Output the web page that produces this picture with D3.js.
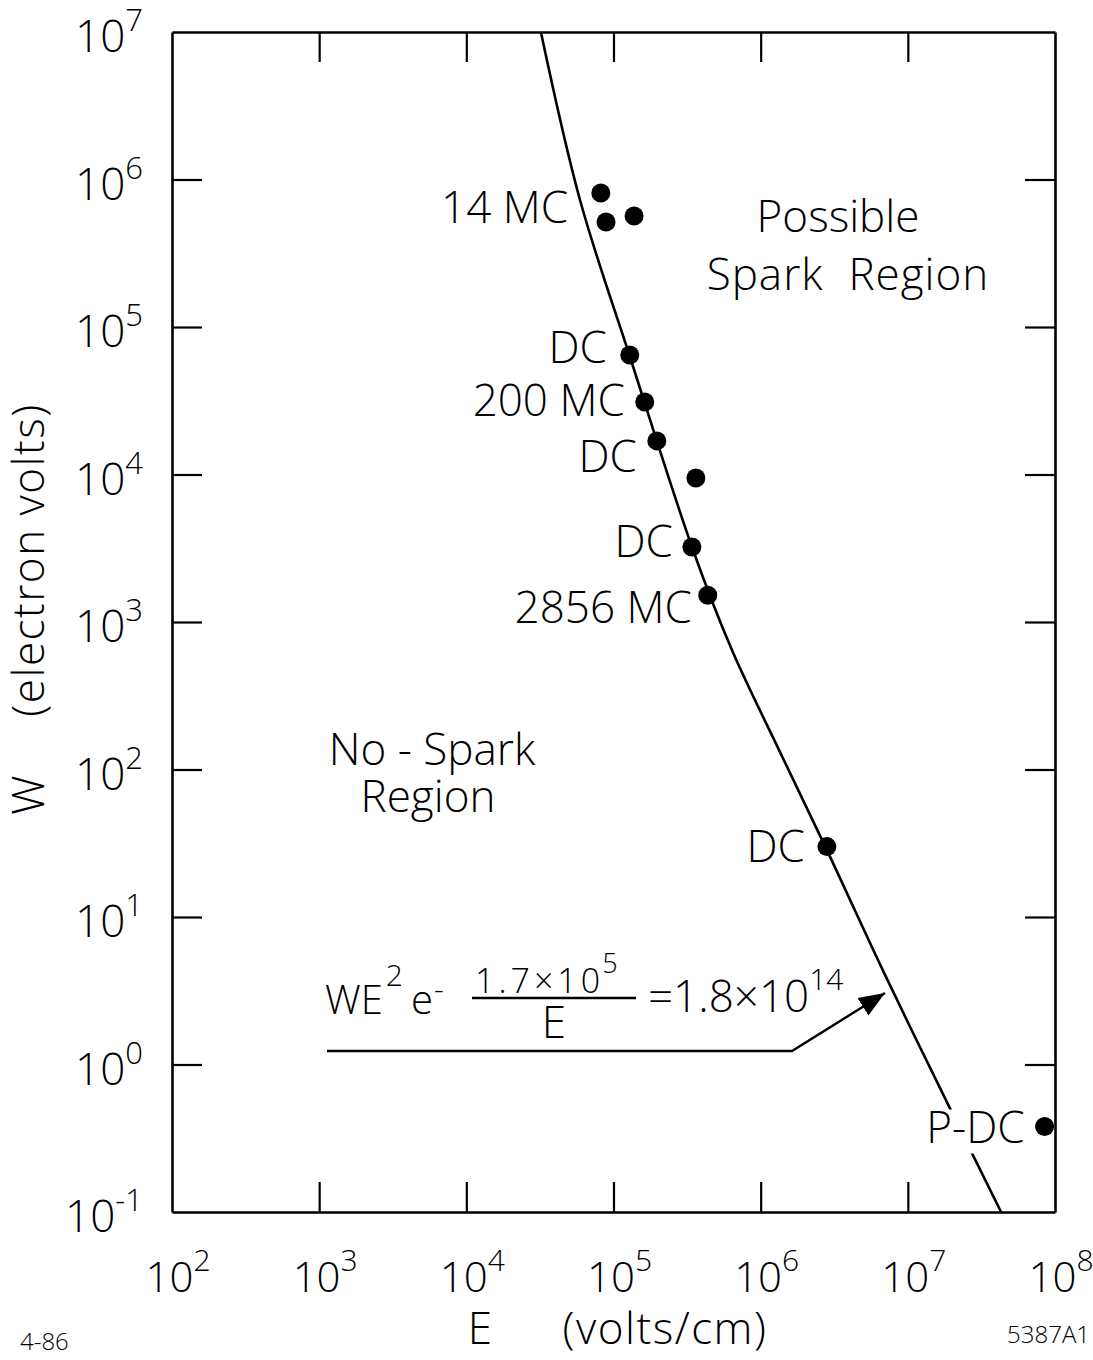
<!DOCTYPE html>
<html>
<head>
<meta charset="utf-8">
<script src="https://cdn.jsdelivr.net/npm/d3@7"></script>
<style>
  body { margin: 0; background: #fff; }
  text { font-family: "Open Sans", "DejaVu Sans", sans-serif; font-weight: 300; fill: #000; }
</style>
</head>
<body>
<div id="chart"></div>
<script>
// --- data ---
const pointE = [8.2e4, 8.9e4, 1.38e5, 1.29e5, 1.63e5, 1.97e5, 3.63e5, 3.41e5, 4.37e5, 2.82e6, 8.5e7];
const pointW = [8.1e5, 5.15e5, 5.66e5, 6.45e4, 3.1e4, 1.69e4, 9.46e3, 3.22e3, 1.52e3, 30, 0.38];
const pointLabels = ["", "14 MC", "", "DC", "200 MC", "DC", "", "DC", "2856 MC", "DC", "P-DC"];

// boundary curve
const curveE = [3.21e4, 5.92e4, 1.294e5, 3.47e5, 6.38e5, 1.35e6, 2.82e6, 7.0e6, 1.96e7, 4.3e7];
const curveW = [1e7, 7.26e5, 6.26e4, 3.08e3, 646, 132, 28.4, 4.05, 0.49, 0.1];

const xTicks = [1e2, 1e3, 1e4, 1e5, 1e6, 1e7, 1e8];
const xTickExp = ["2", "3", "4", "5", "6", "7", "8"];
const yTicks = [1e-1, 1e0, 1e1, 1e2, 1e3, 1e4, 1e5, 1e6, 1e7];
const yTickExp = ["-1", "0", "1", "2", "3", "4", "5", "6", "7"];

// label placement (end of text relative to the dot, baseline offset)
const labelNudge = {1: [-38, 1], 3: [-23, 8], 4: [-20, 14], 5: [-20, 31], 7: [-19, 10],
                    8: [-16, 28], 9: [-22, 15], 10: [-20, 17]};

const width = 1093, height = 1360;
const svg = d3.select("#chart").append("svg")
  .attr("width", width).attr("height", height)
  .style("background", "#fff");

const x = d3.scaleLog().domain([1e2, 1e8]).range([172, 1055]);
const y = d3.scaleLog().domain([1e-1, 1e7]).range([1212, 32]);

const [x0, x1] = x.range();
const [y0, y1] = y.range();

// --- axes (ticks pointing inward) ---
const innerX = xTicks.slice(1, -1);
const innerY = yTicks.slice(1, -1);

function styleAxis(g) {
  g.select(".domain").attr("stroke", "#000").attr("stroke-width", 2.6);
  g.selectAll(".tick line").attr("stroke", "#000").attr("stroke-width", 2.2);
  g.selectAll(".tick text").remove();
}

svg.append("g").attr("transform", `translate(0,${y0})`)
  .call(d3.axisBottom(x).tickValues(innerX).tickSize(-30).tickSizeOuter(0).tickFormat(""))
  .call(styleAxis);
svg.append("g").attr("transform", `translate(0,${y1})`)
  .call(d3.axisTop(x).tickValues(innerX).tickSize(-30).tickSizeOuter(0).tickFormat(""))
  .call(styleAxis);
svg.append("g").attr("transform", `translate(${x0},0)`)
  .call(d3.axisLeft(y).tickValues(innerY).tickSize(-30).tickSizeOuter(0).tickFormat(""))
  .call(styleAxis);
svg.append("g").attr("transform", `translate(${x1},0)`)
  .call(d3.axisRight(y).tickValues(innerY).tickSize(-30).tickSizeOuter(0).tickFormat(""))
  .call(styleAxis);

// tick labels as 10^n
xTicks.forEach((v, i) => {
  const t = svg.append("text")
    .attr("x", x(v) + 6).attr("y", y0 + 80)
    .attr("text-anchor", "middle");
  t.append("tspan").attr("font-size", 42).text("10");
  t.append("tspan").attr("font-size", 30).attr("dy", -21).text(xTickExp[i]);
});

yTicks.forEach((v, i) => {
  const t = svg.append("text")
    .attr("x", 143).attr("y", y(v) + 20)
    .attr("text-anchor", "end");
  t.append("tspan").attr("font-size", 44).text("10");
  t.append("tspan").attr("font-size", 31).attr("dy", -21).text(yTickExp[i]);
});

// axis titles
svg.append("text")
  .attr("transform", "translate(44,795) rotate(-90)")
  .attr("text-anchor", "middle").attr("font-size", 44).text("W");
svg.append("text")
  .attr("transform", "translate(44,560) rotate(-90)")
  .attr("text-anchor", "middle").attr("font-size", 44)
  .attr("letter-spacing", 1.5).text("(electron volts)");

svg.append("text").attr("x", 480).attr("y", 1344)
  .attr("text-anchor", "middle").attr("font-size", 44).text("E");
svg.append("text").attr("x", 665).attr("y", 1344)
  .attr("text-anchor", "middle").attr("font-size", 44)
  .attr("letter-spacing", 1.5).text("(volts/cm)");

svg.append("text").attr("x", 20).attr("y", 1350).attr("font-size", 24).text("4-86");
svg.append("text").attr("x", 1090).attr("y", 1343)
  .attr("text-anchor", "end").attr("font-size", 24).text("5387A1");

// region captions
svg.append("text").attr("x", 838).attr("y", 232)
  .attr("text-anchor", "middle").attr("font-size", 44).text("Possible");
svg.append("text").attr("x", 848).attr("y", 290)
  .attr("text-anchor", "middle").attr("font-size", 44)
  .attr("letter-spacing", 1).text("Spark\u00a0\u00a0Region");
svg.append("text").attr("x", 432).attr("y", 765)
  .attr("text-anchor", "middle").attr("font-size", 44).text("No - Spark");
svg.append("text").attr("x", 428).attr("y", 812)
  .attr("text-anchor", "middle").attr("font-size", 44).text("Region");

// --- boundary curve ---
const curveData = curveE.map((e, i) => ({e: e, w: curveW[i]}));
const line = d3.line()
  .x(d => x(d.e))
  .y(d => y(d.w))
  .curve(d3.curveCatmullRom.alpha(0.5));

svg.append("path")
  .datum(curveData)
  .attr("d", line)
  .attr("fill", "none")
  .attr("stroke", "#000")
  .attr("stroke-width", 2.6);

// --- formula annotation ---
const f = svg.append("g");
const lhs = f.append("text").attr("x", 325).attr("y", 1014).attr("font-size", 40);
lhs.append("tspan").text("WE");
lhs.append("tspan").attr("font-size", 30).attr("dx", 3).attr("dy", -28).text("2");
lhs.append("tspan").attr("dx", 8).attr("dy", 28).text("e");
lhs.append("tspan").attr("font-size", 30).attr("dx", 1).attr("dy", -14).text("-");

const num = f.append("text").attr("x", 475).attr("y", 993).attr("font-size", 34);
num.append("tspan").attr("letter-spacing", 4).text("1.7×1");
num.append("tspan").text("0");
num.append("tspan").attr("font-size", 27).attr("dx", 2).attr("dy", -20).text("5");
f.append("line").attr("x1", 472).attr("x2", 636).attr("y1", 998).attr("y2", 998)
  .attr("stroke", "#000").attr("stroke-width", 2.4);
f.append("text").attr("x", 554).attr("y", 1038).attr("text-anchor", "middle")
  .attr("font-size", 44).text("E");
const rhs = f.append("text").attr("x", 648).attr("y", 1012).attr("font-size", 44);
rhs.append("tspan").text("=1.8×10");
rhs.append("tspan").attr("font-size", 30).attr("dy", -22).text("14");

svg.append("defs").append("marker")
  .attr("id", "arrow").attr("viewBox", "0 0 10 10")
  .attr("refX", 10).attr("refY", 5)
  .attr("markerWidth", 26).attr("markerHeight", 26)
  .attr("markerUnits", "userSpaceOnUse")
  .attr("orient", "auto")
  .append("path").attr("d", "M0,1 L10,5 L0,9 Z").attr("fill", "#000");

f.append("path")
  .attr("d", "M327,1051 L792,1051 L885,993")
  .attr("fill", "none").attr("stroke", "#000").attr("stroke-width", 2.4)
  .attr("marker-end", "url(#arrow)");

// --- data points and labels ---
const pts = pointE.map((e, i) => ({e: e, w: pointW[i], label: pointLabels[i], i: i}));

pts.filter(d => d.label).forEach(d => {
  const [dx, dy] = labelNudge[d.i];
  const base = y(d.w) + dy;
  const t = svg.append("text")
    .attr("x", x(d.e) + dx).attr("y", base)
    .attr("text-anchor", "end").attr("font-size", 44)
    .text(d.label);
  if (d.label === "P-DC") {
    // the boundary line is broken where this label sits
    const b = t.node().getBBox();
    svg.append("rect")
      .attr("x", b.x - 2).attr("y", base - 34)
      .attr("width", b.width + 4).attr("height", 44)
      .attr("fill", "#fff");
    t.raise();
  }
});

svg.selectAll(".dot")
  .data(pts)
  .enter()
  .append("circle")
  .attr("class", "dot")
  .attr("cx", d => x(d.e))
  .attr("cy", d => y(d.w))
  .attr("r", 9.5)
  .attr("fill", "#000");
</script>
</body>
</html>
